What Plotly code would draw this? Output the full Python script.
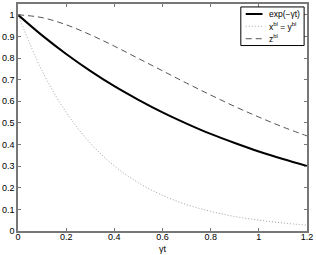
import plotly.graph_objects as go

t = [0.0, 0.1, 0.2, 0.3, 0.4, 0.5, 0.6, 0.7, 0.8, 0.9, 1.0, 1.1, 1.2]
exp_gt = [1.000, 0.905, 0.819, 0.741, 0.670, 0.607, 0.549, 0.497, 0.449, 0.407, 0.368, 0.333, 0.301]
x_bl = [1.000, 0.741, 0.549, 0.407, 0.301, 0.223, 0.165, 0.122, 0.091, 0.067, 0.050, 0.037, 0.027]
z_bl = [1.000, 0.987, 0.954, 0.908, 0.855, 0.798, 0.741, 0.684, 0.629, 0.576, 0.527, 0.481, 0.440]

names = ["exp(−γt)", "x<sup>bl</sup> = y<sup>bl</sup>", "z<sup>bl</sup>"]
series = [exp_gt, x_bl, z_bl]
styles = [dict(color="black", width=2, dash="solid"),
          dict(color="#a0a0a0", width=1, dash="1px,2px"),
          dict(color="#555555", width=1, dash="6px,4px")]

xticks = [0, 0.2, 0.4, 0.6, 0.8, 1.0, 1.2]
xticklabels = ["0", "0.2", "0.4", "0.6", "0.8", "1", "1.2"]
yticks = [0, 0.1, 0.2, 0.3, 0.4, 0.5, 0.6, 0.7, 0.8, 0.9, 1.0]
yticklabels = ["0", "0.1", "0.2", "0.3", "0.4", "0.5", "0.6", "0.7", "0.8", "0.9", "1"]

font = "Liberation Sans, Arial, Helvetica, sans-serif"
fs = 9

fig = go.Figure()
for nm, ys, st in zip(names, series, styles):
    fig.add_trace(go.Scatter(x=t, y=ys, mode="lines", name=nm, showlegend=False,
                             line=dict(shape="spline", **st)))

axis_common = dict(showline=True, linecolor="#777777", linewidth=1.5, mirror="ticks",
                   ticks="inside", ticklen=3, tickcolor="#777777", showgrid=False,
                   zeroline=False, ticklabeloverflow="allow",
                   tickfont=dict(family=font, size=fs, color="black"))

# manual legend box (paper coordinates)
fig.add_shape(type="rect", xref="paper", yref="paper", x0=0.771, x1=0.990, y0=0.817, y1=0.987,
              line=dict(color="black", width=1), fillcolor="white", layer="above")
leg_y = [0.956, 0.902, 0.847]
for nm, st, yy in zip(names, styles, leg_y):
    fig.add_shape(type="line", xref="paper", yref="paper", x0=0.788, x1=0.846, y0=yy, y1=yy,
                  line=dict(color=st["color"], width=st["width"], dash=st["dash"]), layer="above")
    fig.add_annotation(xref="paper", yref="paper", x=0.863, y=yy, text=nm, showarrow=False,
                       xanchor="left", yanchor="middle", font=dict(family=font, size=8.5, color="black"))

fig.add_annotation(xref="paper", yref="paper", x=0.5, y=-0.078, text="γt", showarrow=False,
                   xanchor="center", yanchor="middle", font=dict(family=font, size=fs, color="black"))

fig.update_layout(
    width=316, height=255,
    margin=dict(l=15, r=9, t=2, b=24),
    paper_bgcolor="white", plot_bgcolor="white",
    font=dict(family=font, size=fs, color="black"),
    showlegend=False,
    xaxis=dict(range=[0, 1.2], tickvals=xticks, ticktext=xticklabels,
               ticklabelstandoff=-4, **axis_common),
    yaxis=dict(range=[0, 1.05], tickvals=yticks, ticktext=yticklabels, **axis_common),
)

fig.write_html("out.html", config={"displayModeBar": False},
               post_script="document.body.style.margin='0';")
